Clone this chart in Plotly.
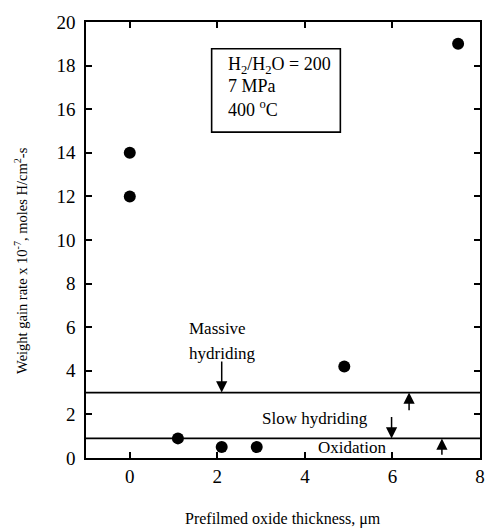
import plotly.graph_objects as go

# Data
thickness = [0, 0, 1.1, 2.1, 2.9, 4.9, 7.5]
rate = [14, 12, 0.9, 0.5, 0.5, 4.2, 19]
boundaries = [3.0, 0.9]  # massive/slow and slow/oxidation regime limits
x_ticks = [0, 2, 4, 6, 8]
y_ticks = [0, 2, 4, 6, 8, 10, 12, 14, 16, 18, 20]

FONT = "Liberation Serif"
fig = go.Figure()

fig.add_trace(go.Scatter(
    x=thickness, y=rate, mode="markers",
    marker=dict(color="black", size=12), showlegend=False, cliponaxis=False))

for b in boundaries:
    fig.add_shape(type="line", xref="paper", yref="y", x0=0, x1=1, y0=b, y1=b,
                  line=dict(color="black", width=1.6))

# condition box
fig.add_shape(type="rect", xref="x", yref="y", x0=1.87, x1=4.81, y0=14.95, y1=18.77,
              line=dict(color="black", width=1.6))

ann = []
def txt(x, y, s, anchor="left", size=18):
    ann.append(dict(x=x, y=y, xref="x", yref="y", text=s, showarrow=False,
                    xanchor=anchor, yanchor="middle", font=dict(family=FONT, size=size, color="black")))

txt(2.2, 18.0, "H<sub>2</sub>/H<sub>2</sub>O = 200", size=18)
txt(2.2, 17.05, "7 MPa", size=18)
txt(2.2, 16.05, "400 <sup>o</sup>C", size=18)
txt(1.31, 5.95, "Massive", size=17)
txt(1.31, 4.8, "hydriding", size=17)
txt(4.24, 1.82, "Slow hydriding", anchor="center", size=17)
txt(5.08, 0.48, "Oxidation", anchor="center", size=17)

def arrow(x, y_head, y_tail):
    ann.append(dict(x=x, y=y_head, ax=x, ay=y_tail, xref="x", yref="y", axref="x", ayref="y",
                    showarrow=True, arrowhead=2, arrowsize=1.5, arrowwidth=1.5, arrowcolor="black",
                    text=""))

arrow(2.1, 3.0, 4.5)
arrow(6.38, 3.0, 2.12)
arrow(5.98, 0.9, 1.95)
arrow(7.13, 0.9, 0.08)

# axis titles
ann.append(dict(x=-66 / 399, y=0.454, xref="paper", yref="paper", textangle=-90, showarrow=False,
                xanchor="center", yanchor="middle",
                text="Weight gain rate x 10<sup>-7</sup>, moles H/cm<sup>2</sup>-s",
                font=dict(family=FONT, size=14.5, color="black")))
ann.append(dict(x=0.5, y=-61 / 436, xref="paper", yref="paper", showarrow=False,
                xanchor="center", yanchor="middle",
                text="Prefilmed oxide thickness, \u03bcm",
                font=dict(family=FONT, size=16, color="black")))

axis_common = dict(showgrid=False, zeroline=False, showline=True, linecolor="black", linewidth=1.6,
                   mirror="ticks", ticks="inside", ticklen=6, tickwidth=1.5, tickcolor="black",
                   tickfont=dict(family=FONT, size=19, color="black"))

fig.update_layout(
    width=489, height=528,
    margin=dict(l=86, r=4, t=22, b=70),
    paper_bgcolor="white", plot_bgcolor="white",
    annotations=ann,
    xaxis=dict(range=[-1, 8], tickvals=x_ticks, **axis_common),
    yaxis=dict(range=[0, 20], tickvals=y_ticks, ticklabelstandoff=5, **axis_common),
)

fig.write_html("out.html")
